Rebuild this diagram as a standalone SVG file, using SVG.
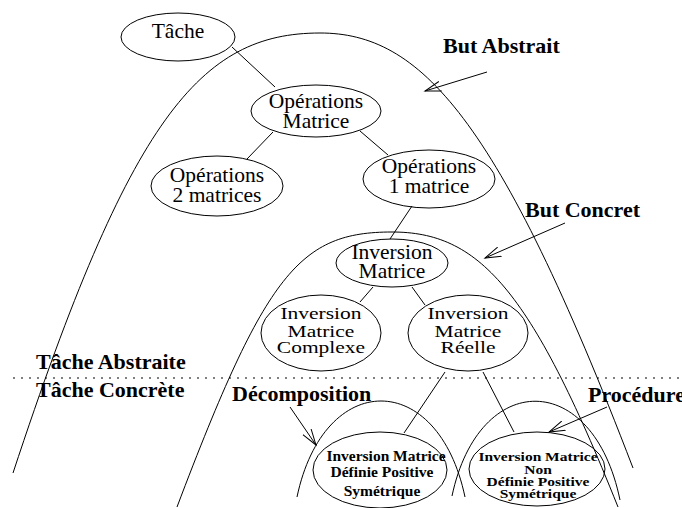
<svg xmlns="http://www.w3.org/2000/svg" width="682" height="508" viewBox="0 0 682 508">
<style>
.n{fill:none;stroke:#000;stroke-width:1}
.c{fill:none;stroke:#000;stroke-width:1}
.t{font-family:"Liberation Serif","Times New Roman",serif;font-size:21.5px;text-anchor:middle;fill:#000}
.b{font-family:"Liberation Serif","Times New Roman",serif;font-size:22px;font-weight:bold;fill:#000}
.s{font-family:"Liberation Serif","Times New Roman",serif;font-size:15.5px;font-weight:bold;text-anchor:middle;fill:#000}
</style>
<defs>
<marker id="ar" markerWidth="18" markerHeight="12" refX="16" refY="6" orient="auto" markerUnits="userSpaceOnUse">
<path d="M0,1 L16,6 L0,11" fill="none" stroke="#000" stroke-width="1"/>
</marker>
</defs>
<rect width="682" height="508" fill="#fff"/>

<g id="arcs">
<path class="c" d="M13,473 C130,118 200,33 320,33 C420,33 498,116 633,468"/>
<path class="c" d="M177,507 C266,272 300,232 392,232 C478,232 530,287 618,507"/>
<path class="c" d="M297,497 C324,369 438,369 465,497"/>
<path class="c" d="M452,496 C479,369 593,369 620,500"/>
</g>

<g id="separator">
<line x1="13" y1="378" x2="682" y2="378" stroke="#000" stroke-width="1" stroke-dasharray="2,6"/>
</g>

<g id="connectors">
<line class="c" x1="232" y1="47" x2="275" y2="87"/>
<line class="c" x1="273" y1="132" x2="247" y2="159"/>
<line class="c" x1="360" y1="131" x2="388" y2="155"/>
<line class="c" x1="412" y1="206" x2="390" y2="239"/>
<line class="c" x1="373" y1="287" x2="360" y2="302"/>
<line class="c" x1="412" y1="287" x2="425" y2="305"/>
<line class="c" x1="445" y1="372" x2="404" y2="433"/>
<line class="c" x1="483" y1="372" x2="514" y2="432"/>
</g>

<g id="arrows">
<line class="c" x1="487" y1="72" x2="425" y2="91" marker-end="url(#ar)"/>
<line class="c" x1="565" y1="223" x2="485" y2="258" marker-end="url(#ar)"/>
<line class="c" x1="290" y1="407" x2="316" y2="445" marker-end="url(#ar)"/>
<line class="c" x1="607" y1="407" x2="549" y2="432" marker-end="url(#ar)"/>
</g>

<g id="tache">
<ellipse class="n" cx="178" cy="37" rx="57" ry="24"/>
<text class="t" x="178" y="38">Tâche</text>
</g>
<g id="op-matrice">
<ellipse class="n" cx="316" cy="111" rx="65" ry="26"/>
<text class="t" x="316" y="108">Opérations</text>
<text class="t" x="316" y="128">Matrice</text>
</g>
<g id="op-2">
<ellipse class="n" cx="217" cy="186" rx="66" ry="30"/>
<text class="t" x="217" y="182">Opérations</text>
<text class="t" x="217" y="202">2 matrices</text>
</g>
<g id="op-1">
<ellipse class="n" cx="429" cy="179" rx="66" ry="29"/>
<text class="t" x="429" y="173">Opérations</text>
<text class="t" x="429" y="193">1 matrice</text>
</g>
<g id="inv-matrice">
<ellipse class="n" cx="392" cy="263" rx="56" ry="24"/>
<text class="t" x="392" y="259">Inversion</text>
<text class="t" x="392" y="278">Matrice</text>
</g>
<g id="inv-complexe">
<ellipse class="n" cx="321" cy="333" rx="60" ry="38"/>
<g transform="matrix(1 0 0 0.8 0 67.4)">
<text class="t" x="321" y="314.5">Inversion</text>
<text class="t" x="321" y="337">Matrice</text>
<text class="t" x="321" y="357">Complexe</text>
</g>
</g>
<g id="inv-reelle">
<ellipse class="n" cx="468" cy="333" rx="60" ry="38"/>
<g transform="matrix(1 0 0 0.8 0 67.4)">
<text class="t" x="468" y="314.5">Inversion</text>
<text class="t" x="468" y="337">Matrice</text>
<text class="t" x="468" y="357">Réelle</text>
</g>
</g>
<g id="inv-dps">
<ellipse class="n" cx="380" cy="470" rx="67" ry="38"/>
<text class="s" x="386" y="461">Inversion Matrice</text>
<text class="s" x="382" y="477">Définie Positive</text>
<text class="s" x="382" y="496">Symétrique</text>
</g>
<g id="inv-ndps">
<ellipse class="n" cx="537" cy="469" rx="68" ry="37"/>
<g transform="matrix(1 0 0 0.75 0 120)">
<text class="s" x="538" y="454.7">Inversion Matrice</text>
<text class="s" x="538" y="472">Non</text>
<text class="s" x="538" y="488">Définie Positive</text>
<text class="s" x="538" y="504">Symétrique</text>
</g>
</g>

<g id="labels">
<text class="b" x="443" y="53">But Abstrait</text>
<text class="b" x="525" y="217">But Concret</text>
<text class="b" x="36" y="369">Tâche Abstraite</text>
<text class="b" x="36" y="397">Tâche Concrète</text>
<text class="b" x="232" y="401">Décomposition</text>
<text class="b" x="588" y="402">Procédure</text>
</g>
</svg>
